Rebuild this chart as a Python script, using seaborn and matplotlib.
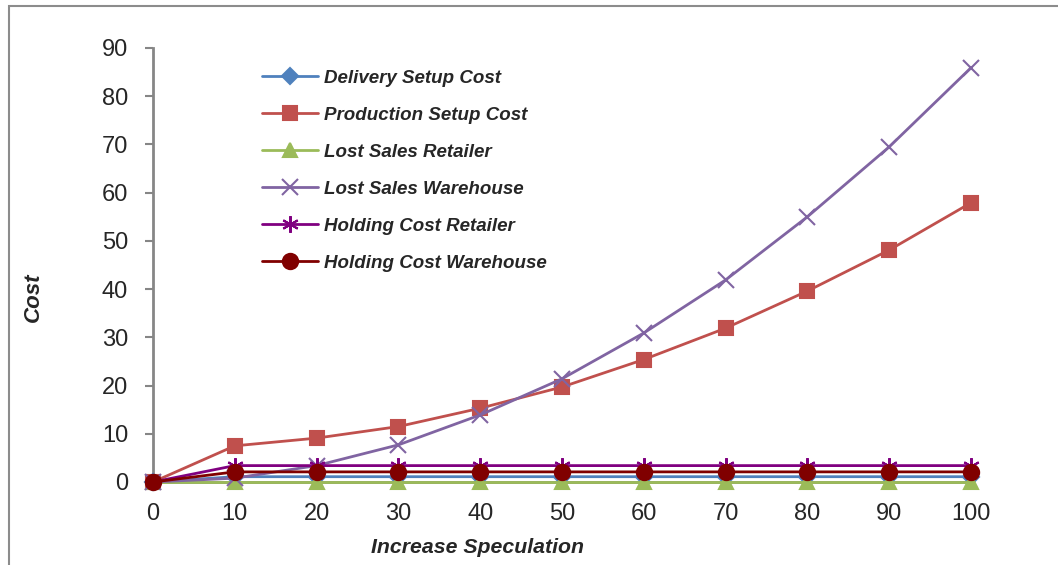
import pandas as pd
import matplotlib
matplotlib.use("Agg")
import matplotlib.pyplot as plt
import seaborn as sns
from matplotlib.patches import Rectangle

# DATA
speculation = [0, 10, 20, 30, 40, 50, 60, 70, 80, 90, 100]
delivery_setup = [0, 1.1, 1.1, 1.1, 1.1, 1.1, 1.1, 1.1, 1.1, 1.1, 1.1]
production_setup = [0, 7.5, 9.1, 11.5, 15.3, 19.7, 25.4, 31.9, 39.6, 48.1, 57.9]
lost_sales_retailer = [0, 0, 0, 0, 0, 0, 0, 0, 0, 0, 0]
lost_sales_warehouse = [0, 0.8, 3.4, 7.7, 13.9, 21.4, 30.9, 41.9, 55.0, 69.5, 85.9]
holding_retailer = [0, 3.4, 3.4, 3.4, 3.4, 3.4, 3.4, 3.4, 3.4, 3.4, 3.4]
holding_warehouse = [0, 2.1, 2.1, 2.1, 2.1, 2.1, 2.1, 2.1, 2.1, 2.1, 2.1]

series_names = ["Delivery Setup Cost", "Production Setup Cost", "Lost Sales Retailer",
                "Lost Sales Warehouse", "Holding Cost Retailer", "Holding Cost Warehouse"]
series_values = [delivery_setup, production_setup, lost_sales_retailer,
                 lost_sales_warehouse, holding_retailer, holding_warehouse]
cores = ["#4F81BD", "#C0504D", "#9BBB59", "#8064A2", "#800080", "#800000"]
marcadores = ["D", "s", "^", "x", (6, 2, 0), "o"]
tamanhos = [8, 10, 10, 11, 12, 11]

df = pd.concat([pd.DataFrame({"Increase Speculation": speculation, "Cost": v, "Serie": n})
                for n, v in zip(series_names, series_values)], ignore_index=True)

sns.set_style("white")
plt.rcParams["font.family"] = ["Liberation Sans", "DejaVu Sans"]

fig = plt.figure(figsize=(10.58, 5.65), dpi=100)
ax = fig.add_axes([153 / 1058, 83 / 565, 818 / 1058, 434 / 565])

for nome, cor, m, ms in zip(series_names, cores, marcadores, tamanhos):
    sub = df[df["Serie"] == nome]
    sns.lineplot(data=sub, x="Increase Speculation", y="Cost", ax=ax, color=cor,
                 marker=m, markersize=ms, markeredgecolor=cor, markeredgewidth=1.5,
                 linewidth=2, label=nome, clip_on=False, zorder=3)

ax.set_xlim(0, 100)
ax.set_ylim(0, 90)
ax.set_xticks(speculation)
ax.set_yticks(range(0, 91, 10))
ax.tick_params(axis="y", length=6, width=1.5, color="#868686", pad=12, labelsize=17, left=True)
ax.tick_params(axis="x", length=0, pad=15, labelsize=17)
for s in ["top", "right"]:
    ax.spines[s].set_visible(False)
for s in ["left", "bottom"]:
    ax.spines[s].set_color("#868686")
    ax.spines[s].set_linewidth(2)

ax.set_xlabel("Increase Speculation", fontsize=15.3, fontweight="bold", fontstyle="italic")
ax.set_ylabel("Cost", fontsize=16, fontweight="bold", fontstyle="italic")
ax.xaxis.set_label_coords(0.397, -0.13)
ax.yaxis.set_label_coords(-0.133, 0.426)

ax.legend(loc="upper left", bbox_to_anchor=(0.122, 0.972), frameon=False,
          prop={"size": 13.5, "weight": "bold", "style": "italic"},
          handlelength=3.0, handletextpad=0.3, labelspacing=1.06, borderpad=0)

# MOLDURA DO GRÁFICO (ESTILO EXCEL)
fig.patches.append(Rectangle((9 / 1058, -0.1), 1.2, (565 - 5.5) / 565 + 0.1,
                             transform=fig.transFigure, fill=False,
                             edgecolor="#8c8c8c", linewidth=1.5))

fig.savefig("out.png", dpi=100)
plt.close()
